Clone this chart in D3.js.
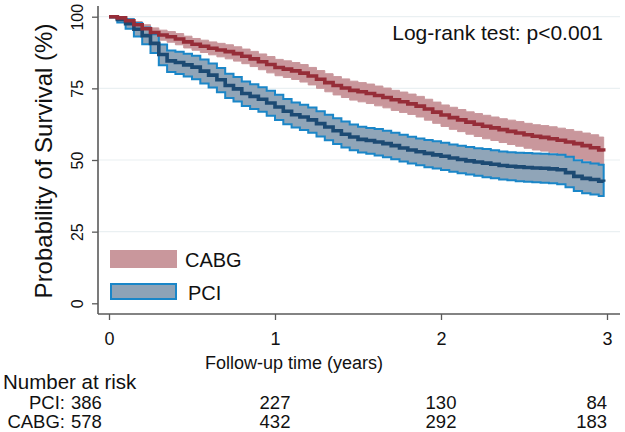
<!DOCTYPE html>
<html>
<head>
<meta charset="utf-8">
<script src="https://cdn.jsdelivr.net/npm/d3@7"></script>
<style>
  html, body { margin: 0; padding: 0; background: #fff; }
  svg { display: block; font-family: "Liberation Sans", Arial, sans-serif; }
</style>
</head>
<body>
<svg id="chart" width="625" height="432"></svg>
<script>
// ---------- data ----------
const time = [0,0.05,0.1,0.15,0.2,0.25,0.3,0.35,0.4,0.45,0.5,0.55,0.6,0.65,0.7,0.75,0.8,0.85,0.9,0.95,
  1.0,1.05,1.1,1.15,1.2,1.25,1.3,1.35,1.4,1.45,1.5,1.55,1.6,1.65,1.7,1.75,1.8,1.85,1.9,1.95,
  2.0,2.05,2.1,2.15,2.2,2.25,2.3,2.35,2.4,2.45,2.5,2.55,2.6,2.65,2.7,2.75,2.8,2.85,2.9,2.95,2.98];

const cabgSurv = [100,99.6,98.6,97.2,95.8,94.5,93.6,93.0,92.2,91.2,90.4,89.7,89.0,88.4,87.8,87.1,86.2,85.3,84.3,83.3,
  82.3,81.7,81.1,80.3,79.3,78.2,77.0,76.0,75.1,74.3,73.8,73.2,72.5,71.8,71.0,70.3,69.6,68.8,67.8,66.7,
  65.7,64.8,64.0,63.2,62.5,61.8,61.2,60.6,60.0,59.4,58.8,58.3,57.9,57.4,56.9,56.3,55.7,55.0,54.3,53.5,53.0];
const cabgUpper = [100,100,99.4,98.3,97.2,96.1,95.3,94.8,94.1,93.2,92.4,91.8,91.2,90.7,90.2,89.5,88.7,87.9,87.0,86.1,
  85.1,84.6,84.0,83.3,82.3,81.2,80.1,79.1,78.3,77.5,77.0,76.5,75.8,75.1,74.3,73.7,73.0,72.2,71.2,70.2,
  69.2,68.4,67.6,66.8,66.2,65.6,65.0,64.4,63.9,63.4,62.8,62.3,62.0,61.6,61.1,60.6,60.0,59.4,58.8,58.0,57.6];
const cabgLower = [100,99.2,97.8,96.0,94.3,92.8,91.8,91.1,90.2,89.1,88.3,87.5,86.7,86.0,85.3,84.5,83.6,82.6,81.5,80.4,
  79.4,78.8,78.1,77.2,76.2,75.0,73.8,72.7,71.8,70.9,70.3,69.7,68.9,68.2,67.3,66.6,65.9,65.0,63.9,62.8,
  61.7,60.7,59.9,59.0,58.2,57.4,56.8,56.1,55.4,54.8,54.1,53.5,53.1,52.5,51.9,51.2,50.5,49.7,48.9,48.6,48.4];

const pciSurv = [100,99.0,97.6,95.6,93.4,90.7,86.8,84.6,84.0,83.2,82.4,81.0,79.6,78.0,76.0,74.8,73.2,72.2,71.2,69.9,
  68.5,67.0,65.8,65.0,64.0,62.7,61.5,60.2,59.0,58.0,57.2,56.8,56.3,55.7,55.0,54.2,53.5,52.9,52.3,51.8,
  51.3,50.7,50.2,49.7,49.3,48.9,48.5,48.1,47.8,47.6,47.4,47.2,47.1,46.9,46.6,45.6,44.3,43.6,43.2,42.6,42.4];
const pciUpper = [100,99.8,99.1,97.8,96.2,93.9,90.3,88.2,87.8,87.1,86.4,85.1,83.7,82.1,80.1,79.0,77.4,76.4,75.4,74.2,
  72.8,71.3,70.1,69.3,68.3,67.0,65.8,64.6,63.4,62.4,61.6,61.2,60.8,60.2,59.5,58.8,58.1,57.5,57.0,56.5,
  56.0,55.4,55.0,54.5,54.1,53.8,53.4,53.0,52.7,52.5,52.4,52.3,52.2,52.0,51.8,51.1,49.9,49.2,48.8,48.3,48.2];
const pciLower = [100,98.0,95.8,93.1,90.4,87.3,83.1,80.7,80.0,79.1,78.2,76.7,75.3,73.6,71.6,70.4,68.8,67.8,66.8,65.4,
  64.0,62.5,61.3,60.5,59.5,58.2,56.9,55.6,54.4,53.4,52.6,52.2,51.6,51.0,50.3,49.5,48.8,48.2,47.5,47.0,
  46.5,45.9,45.4,44.9,44.5,44.0,43.6,43.2,42.9,42.6,42.4,42.2,42.1,41.9,41.5,40.5,39.2,38.4,38.0,37.4,37.1];

const xTicks = [0, 1, 2, 3];
const yTicks = [0, 25, 50, 75, 100];
const groups = ["CABG", "PCI"];
const riskTimes = [0, 1, 2, 3];
const riskPCI = [386, 227, 130, 84];
const riskCABG = [578, 432, 292, 183];

// ---------- layout ----------
const svg = d3.select("#chart");
const x = d3.scaleLinear().domain([0, 3]).range([109, 607]);
const y = d3.scaleLinear().domain([0, 100]).range([303.3, 16.7]);
const plotLeft = 98, plotRight = 620, plotBottom = 314;

const col = {
  cabgBand: "#c9979c",
  cabgLine: "#962d38",
  pciBand: "#8ea3b7",
  pciEdge: "#1a86c8",
  pciLine: "#1c4a73",
  grid: "#eaf0f2",
  axis: "#5a5a5a"
};

// gridlines
svg.append("g").selectAll("line").data(yTicks.filter(d => d > 0)).join("line")
  .attr("x1", plotLeft).attr("x2", plotRight)
  .attr("y1", d => y(d)).attr("y2", d => y(d))
  .attr("stroke", col.grid).attr("stroke-width", 1.2);

const rows = time.map((t, i) => ({t, cs: cabgSurv[i], cu: cabgUpper[i], cl: cabgLower[i],
  ps: pciSurv[i], pu: pciUpper[i], pl: pciLower[i]}));

const areaC = d3.area().curve(d3.curveStepAfter).x(d => x(d.t)).y0(d => y(d.cl)).y1(d => y(d.cu));
const areaP = d3.area().curve(d3.curveStepAfter).x(d => x(d.t)).y0(d => y(d.pl)).y1(d => y(d.pu));
const lineC = d3.line().curve(d3.curveStepAfter).x(d => x(d.t)).y(d => y(d.cs));
const lineP = d3.line().curve(d3.curveStepAfter).x(d => x(d.t)).y(d => y(d.ps));

svg.append("path").attr("d", areaC(rows)).attr("fill", col.cabgBand).attr("stroke", col.cabgBand).attr("stroke-width", 1);
svg.append("path").attr("d", areaP(rows)).attr("fill", col.pciBand).attr("fill-opacity", 0.98)
  .attr("stroke", col.pciEdge).attr("stroke-width", 2).attr("stroke-linejoin", "miter");
svg.append("path").attr("d", lineP(rows)).attr("fill", "none").attr("stroke", col.pciLine).attr("stroke-width", 3.6);
svg.append("path").attr("d", lineC(rows)).attr("fill", "none").attr("stroke", col.cabgLine).attr("stroke-width", 3.6);

// axes
const yAxis = d3.axisLeft(y).tickValues(yTicks).tickSize(6).tickPadding(4);
const gy = svg.append("g").attr("transform", `translate(${plotLeft},0)`).call(yAxis);
gy.select(".domain").remove();
gy.append("line").attr("x1", 0).attr("x2", 0).attr("y1", 6).attr("y2", plotBottom)
  .attr("stroke", col.axis).attr("stroke-width", 1.6);
gy.selectAll(".tick line").attr("stroke", col.axis).attr("stroke-width", 1.3);
gy.selectAll(".tick text")
  .attr("font-size", 16).attr("fill", "#111")
  .attr("text-anchor", "middle")
  .attr("transform", "rotate(-90)")
  .attr("x", 0).attr("y", -15).attr("dy", "0");

const xAxis = d3.axisBottom(x).tickValues(xTicks).tickSize(6).tickPadding(4).tickFormat(d3.format("d"));
const gx = svg.append("g").attr("transform", `translate(0,${plotBottom})`).call(xAxis);
gx.select(".domain").remove();
gx.append("line").attr("x1", plotLeft).attr("x2", plotRight).attr("y1", 0).attr("y2", 0)
  .attr("stroke", col.axis).attr("stroke-width", 1.6);
gx.selectAll(".tick line").attr("stroke", col.axis).attr("stroke-width", 1.3);
gx.selectAll(".tick text").attr("font-size", 18).attr("fill", "#111").attr("y", 18).attr("dy", "0.71em");

// axis titles
svg.append("text").attr("transform", "translate(52,161) rotate(-90)")
  .attr("text-anchor", "middle").attr("font-size", 24).attr("fill", "#111")
  .text("Probability of Survival (%)");
svg.append("text").attr("x", 294).attr("y", 369).attr("text-anchor", "middle")
  .attr("font-size", 18).attr("fill", "#111").text("Follow-up time (years)");

// annotation
svg.append("text").attr("x", 603).attr("y", 40).attr("text-anchor", "end")
  .attr("font-size", 21).attr("fill", "#111").text("Log-rank test: p<0.001");

// legend
const legend = svg.append("g");
legend.append("rect").attr("x", 110).attr("y", 250).attr("width", 67).attr("height", 18)
  .attr("fill", col.cabgBand);
legend.append("text").attr("x", 185).attr("y", 267).attr("font-size", 20).attr("fill", "#111").text(groups[0]);
legend.append("rect").attr("x", 111).attr("y", 284).attr("width", 65).attr("height", 15)
  .attr("fill", col.pciBand).attr("stroke", col.pciEdge).attr("stroke-width", 2);
legend.append("text").attr("x", 188).attr("y", 300).attr("font-size", 20).attr("fill", "#111").text(groups[1]);

// number at risk
svg.append("text").attr("x", 3).attr("y", 389).attr("font-size", 20.5).attr("fill", "#111").text("Number at risk");
const riskRows = [{label: "PCI:", vals: riskPCI, yy: 409}, {label: "CABG:", vals: riskCABG, yy: 428}];
riskRows.forEach(r => {
  svg.append("text").attr("x", 65).attr("y", r.yy).attr("text-anchor", "end")
    .attr("font-size", 18.5).attr("fill", "#111").text(r.label);
  riskTimes.forEach((t, i) => {
    let anchor = "middle", xx = x(t);
    if (i === 0) { anchor = "start"; xx = 71; }
    if (i === riskTimes.length - 1) { anchor = "end"; xx = 607; }
    svg.append("text").attr("x", xx).attr("y", r.yy).attr("text-anchor", anchor)
      .attr("font-size", 18.5).attr("fill", "#111").text(r.vals[i]);
  });
});
</script>
</body>
</html>
